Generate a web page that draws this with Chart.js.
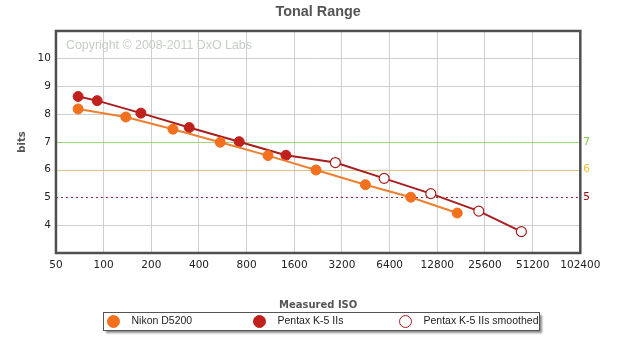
<!DOCTYPE html>
<html>
<head>
<meta charset="utf-8">
<title>Tonal Range</title>
<script src="https://cdn.jsdelivr.net/npm/chart.js@4.4.0/dist/chart.umd.min.js"></script>
<style>
  body { margin: 0; background: #fff; }
  canvas { display: block; }
</style>
</head>
<body>
<canvas id="myChart" width="642" height="351"></canvas>
<script>
// axis ticks
const isoTicks = [50, 100, 200, 400, 800, 1600, 3200, 6400, 12800, 25600, 51200, 102400];
const bitsTicks = [4, 5, 6, 7, 8, 9, 10];
const refLevels = [7, 6, 5];

// Nikon D5200
const nikonIso = [69, 138, 274, 545, 1091, 2195, 4500, 8700, 17100];
const nikonBits = [8.19, 7.90, 7.46, 6.99, 6.51, 5.99, 5.46, 5.01, 4.44];

// Pentax K-5 IIs
const pentaxIso = [69, 91, 172, 347, 718, 1417];
const pentaxBits = [8.64, 8.49, 8.04, 7.52, 7.01, 6.52];

// Pentax K-5 IIs smoothed
const smoothIso = [2906, 5908, 11645, 23400, 43450];
const smoothBits = [6.26, 5.69, 5.14, 4.51, 3.77];

const toPoints = (xs, ys) => xs.map((x, i) => ({x: x, y: ys[i]}));

const refStyle = {
    7: {line: '#9fd481', text: '#77c94a', dash: []},
    6: {line: '#dcc582', text: '#efc02e', dash: []},
    5: {line: '#8c2040', text: '#990000', dash: [2, 3]}
};

Chart.defaults.font.family = '"DejaVu Sans", Verdana, sans-serif';
Chart.defaults.font.size = 10.5;
Chart.defaults.color = '#222';

// copyright, level lines, frame and boxed legend
const dxoPlugin = {
    id: 'dxo',
    beforeDatasetsDraw(chart) {
        const {ctx, chartArea: a, scales} = chart;
        ctx.save();
        ctx.font = '12.4px "Liberation Sans", Arial, sans-serif';
        ctx.fillStyle = '#c6cdc6';
        ctx.textBaseline = 'middle';
        ctx.fillText('Copyright \u00a9 2008-2011 DxO Labs', a.left + 10, a.top + 15);
        ctx.lineWidth = 1;
        refLevels.forEach(v => {
            const y = Math.round(scales.y.getPixelForValue(v)) + 0.5;
            ctx.strokeStyle = refStyle[v].line;
            ctx.setLineDash(refStyle[v].dash);
            ctx.beginPath();
            ctx.moveTo(a.left, y);
            ctx.lineTo(a.right, y);
            ctx.stroke();
        });
        ctx.restore();
    },
    afterDraw(chart) {
        const {ctx, chartArea: a} = chart;
        ctx.save();
        ctx.lineWidth = 2.5;
        ctx.strokeStyle = '#505050';
        ctx.strokeRect(a.left, a.top, a.right - a.left, a.bottom - a.top);

        // legend box
        const boxW = 436, boxH = 18;
        const left = Math.round(chart.width / 2 - boxW / 2) + 0.5;
        const top = Math.round(a.bottom + 59) + 0.5;
        ctx.shadowColor = 'rgba(0,0,0,0.45)';
        ctx.shadowOffsetX = 2;
        ctx.shadowOffsetY = 2;
        ctx.shadowBlur = 2;
        ctx.fillStyle = '#fff';
        ctx.fillRect(left, top, boxW, boxH);
        ctx.shadowColor = 'transparent';
        ctx.lineWidth = 1;
        ctx.strokeStyle = '#555';
        ctx.strokeRect(left, top, boxW, boxH);

        ctx.font = '10.5px "Liberation Sans", Arial, sans-serif';
        ctx.textBaseline = 'middle';
        chart.data.datasets.forEach((ds, i) => {
            const cx = left + 10 + i * 146;
            const cy = top + boxH / 2;
            ctx.beginPath();
            ctx.arc(cx, cy, 6, 0, Math.PI * 2);
            ctx.fillStyle = ds.pointBackgroundColor;
            ctx.fill();
            ctx.strokeStyle = ds.pointBorderColor;
            ctx.stroke();
            ctx.fillStyle = '#222';
            ctx.fillText(ds.label, cx + 18, cy);
        });
        ctx.restore();
    }
};

const ctx = document.getElementById('myChart').getContext('2d');
const chart = new Chart(ctx, {
    type: 'scatter',
    data: {
        datasets: [
            {
                label: 'Nikon D5200',
                data: toPoints(nikonIso, nikonBits),
                showLine: true,
                borderColor: '#ef7f30',
                borderWidth: 2,
                pointBackgroundColor: '#f2701e',
                pointBorderColor: '#f2701e',
                pointBorderWidth: 1,
                pointRadius: 5
            },
            {
                label: 'Pentax K-5 IIs',
                data: toPoints(pentaxIso, pentaxBits),
                showLine: true,
                borderColor: '#a81e1e',
                borderWidth: 2,
                pointBackgroundColor: '#c1211d',
                pointBorderColor: '#c1211d',
                pointBorderWidth: 1,
                pointRadius: 5
            },
            {
                label: 'Pentax K-5 IIs smoothed',
                // line continues from the last measured Pentax point
                data: toPoints([pentaxIso[pentaxIso.length - 1]].concat(smoothIso),
                               [pentaxBits[pentaxBits.length - 1]].concat(smoothBits)),
                showLine: true,
                borderColor: '#a81e1e',
                borderWidth: 2,
                pointBackgroundColor: '#fff',
                pointBorderColor: '#a81e1e',
                pointBorderWidth: 1.2,
                pointRadius: c => c.dataIndex === 0 ? 0 : 5
            }
        ]
    },
    options: {
        responsive: false,
        animation: false,
        layout: {
            padding: {left: 14, right: 49, top: 0, bottom: 40}
        },
        plugins: {
            legend: {display: false},
            tooltip: {enabled: false},
            title: {
                display: true,
                text: 'Tonal Range',
                fullSize: false,
                color: '#555',
                font: {family: '"Liberation Sans", Arial, sans-serif', size: 14.4, weight: 'bold'},
                padding: {top: 3, bottom: 10.7}
            }
        },
        scales: {
            x: {
                type: 'logarithmic',
                min: 50,
                max: 102400,
                afterBuildTicks: axis => { axis.ticks = isoTicks.map(v => ({value: v})); },
                ticks: {
                    autoSkip: false,
                    maxRotation: 0,
                    padding: 6,
                    callback: v => String(v)
                },
                grid: {color: '#cfcfcf', drawTicks: false},
                border: {display: false},
                title: {
                    display: true,
                    text: 'Measured ISO',
                    color: '#555',
                    font: {size: 10, weight: 'bold'},
                    padding: {top: 21.4, bottom: 0}
                }
            },
            y: {
                min: 3,
                max: 11,
                afterBuildTicks: axis => { axis.ticks = bitsTicks.map(v => ({value: v})); },
                ticks: {padding: 5},
                grid: {
                    color: c => refLevels.includes(c.tick.value) ? 'rgba(0,0,0,0)' : '#cfcfcf',
                    drawTicks: false
                },
                border: {display: false},
                title: {
                    display: true,
                    text: 'bits',
                    color: '#555',
                    font: {size: 10, weight: 'bold'},
                    padding: {top: 2, bottom: 4.6}
                }
            },
            y2: {
                position: 'right',
                min: 3,
                max: 11,
                afterBuildTicks: axis => { axis.ticks = refLevels.map(v => ({value: v})); },
                ticks: {
                    padding: 3,
                    color: c => refStyle[c.tick.value] ? refStyle[c.tick.value].text : '#222'
                },
                grid: {drawOnChartArea: false, drawTicks: false},
                border: {display: false}
            }
        }
    },
    plugins: [dxoPlugin]
});
</script>
</body>
</html>
